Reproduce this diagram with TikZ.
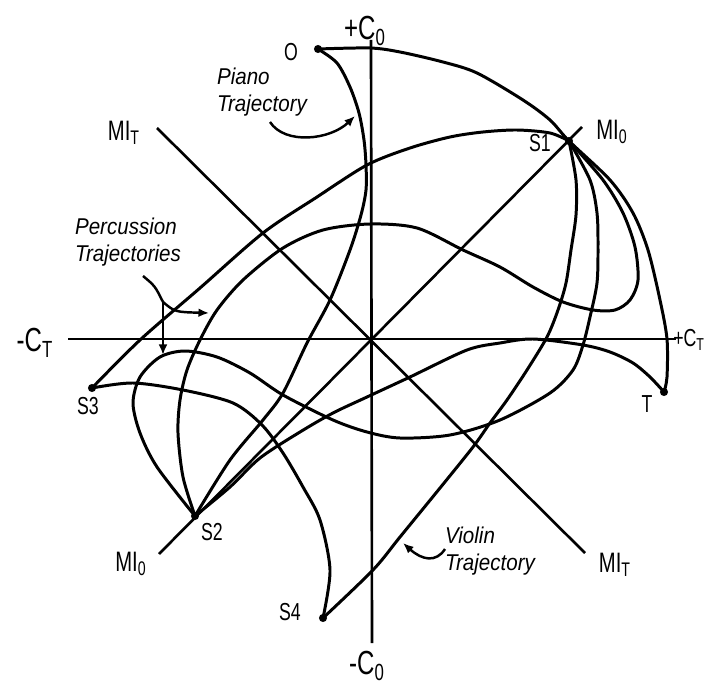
\documentclass[tikz,border=0pt]{standalone}
\usepackage{fontspec}
\newfontfamily\handfont[FakeStretch=0.72]{Liberation Sans}
\newfontfamily\notefont[FakeStretch=0.9]{Liberation Sans}
\usetikzlibrary{arrows.meta, calc, positioning}

\begin{document}
\begin{tikzpicture}[x=0.02cm, y=-0.02cm]

\tikzset{
  axis line/.style={line width=1.5pt},
  trajectory/.style={line width=1.7pt, line join=round},
  pointer/.style={line width=1.4pt, -{Latex[length=6pt, width=5pt]}},
  point label/.style={font=\handfont\fontsize{14}{14}\selectfont, inner sep=0pt},
  mi label/.style={font=\handfont\fontsize{16}{16}\selectfont, inner sep=0pt},
  axis label/.style={font=\handfont\fontsize{19}{19}\selectfont, inner sep=0pt},
  note/.style={font=\notefont\itshape\fontsize{13}{15}\selectfont, align=left, inner sep=0pt},
}

\useasboundingbox (0,0) rectangle (707,686);
\clip (0,0) rectangle (707,686);

% axes and the two MI diagonals
\coordinate (c)    at (370,339);
\coordinate (top)  at (371,40);
\coordinate (bot)  at (372,643);
\coordinate (lft)  at (68,339);
\coordinate (rgt)  at (676,339);
\coordinate (mit1) at (157,128);
\coordinate (mit2) at (585,553);
\coordinate (mio1) at (159,554);
\coordinate (mio2) at (582,127);

\draw[axis line] (top) -- (bot);
\draw[axis line] (lft) -- (rgt);
\draw[axis line] (mit1) -- (mit2);
\draw[axis line] (mio1) -- (mio2);

\node[axis label] (cotop) at (365,31)  {+C\textsubscript{0}};
\node[axis label] (cobot) at (367,666) {-C\textsubscript{0}};
\node[axis label] (ctlft) at (35,343)  {-C\textsubscript{T}};
\node[axis label, font=\handfont\fontsize{14}{14}\selectfont, anchor=west]
  (ctrgt) at (673,340) {+C\textsubscript{T}};

\node[mi label] (mitA) at (124,133) {MI\textsubscript{T}};
\node[mi label] (mitB) at (615,565) {MI\textsubscript{T}};
\node[mi label] (mioA) at (612,132) {MI\textsubscript{0}};
\node[mi label] (mioB) at (131,564) {MI\textsubscript{0}};

% states
\coordinate (O)  at (318,49);
\coordinate (S1) at (569,141);
\coordinate (S2) at (195,516);
\coordinate (S3) at (92,388);
\coordinate (S4) at (323,618);
\coordinate (T)  at (664,392);

\foreach \pt in {O,S1,S2,S3,S4,T}
  \fill (\pt) circle (2.3pt);

\node[point label] (lO)  at (291,52)  {O};
\node[point label] (lS1) at (540,143) {S1};
\node[point label] (lS2) at (212,532) {S2};
\node[point label] (lS3) at (88,406)  {S3};
\node[point label] (lS4) at (290,612) {S4};
\node[point label] (lT)  at (647,404) {T};

% trajectories
\draw[trajectory] plot[smooth, tension=0.5] coordinates {
  (O) (370,48) (400,52) (443,62) (477,73) (523,100) (550,120) (S1)
  (610,180) (633,213) (648,250) (660,300) (667,339) (667,377) (T)};

\draw[trajectory] plot[smooth, tension=0.5] coordinates {
  (O) (337,63) (350,87) (359,113) (364,140) (366,165) (366,190) (361,215)
  (350,250) (330,300) (307,343) (283,393) (263,420) (230,460) (S2)};

\draw[trajectory] plot[smooth, tension=0.5] coordinates {
  (S3) (140,340) (200,288) (263,233) (317,197) (367,165) (410,148)
  (450,137) (483,132) (517,130) (550,133) (S1)};

\draw[trajectory] plot[smooth, tension=0.5] coordinates {
  (S1) (603,180) (623,213) (635,247) (638,280) (630,300) (615,310) (593,310)
  (563,302) (533,287) (500,267) (463,250) (417,228) (370,224) (323,230)
  (283,248) (243,280) (217,310) (200,340) (187,370) (180,400) (178,433)
  (183,477) (S2)};

\draw[trajectory] plot[smooth, tension=0.5] coordinates {
  (S1) (590,180) (597,213) (598,247) (597,283) (590,317) (583,345) (573,370)
  (550,393) (500,420) (450,435) (400,438) (367,432) (333,420) (283,395)
  (250,373) (217,357) (185,351) (160,357) (140,377) (133,403) (140,433)
  (157,467) (S2)};

\draw[trajectory] plot[smooth, tension=0.5] coordinates {
  (S1) (576,180) (576,215) (571,250) (566,283) (558,310) (547,337) (527,370)
  (507,400) (490,423) (473,447) (440,488) (400,537) (373,570) (S4)};

\draw[trajectory] plot[smooth, tension=0.5] coordinates {
  (T) (650,377) (633,363) (610,352) (583,345) (533,339) (500,343) (467,350)
  (410,377) (367,397) (333,413) (300,432) (260,458) (230,487) (S2)};

\draw[trajectory] plot[smooth, tension=0.5] coordinates {
  (S3) (133,383) (183,390) (233,403) (262,425) (283,453) (303,487) (320,520)
  (330,570) (S4)};

% notes
\node[note] (piano) at (262,92) {Piano\\Trajectory};
\node[note] (perc) at (128,242) {Percussion\\Trajectories};
\node[note] (violin) at (490,551) {Violin\\Trajectory};

\coordinate (piano tail) at (270,122);
\coordinate (piano tip)  at (355,116);
\draw[pointer] (piano tail) .. controls (285,145) and (330,140) .. (piano tip);

\coordinate (perc tail) at (143,276);
\coordinate (perc fork) at (163,302);
\coordinate (perc tip1) at (209,313);
\coordinate (perc tip2) at (163,355);
\draw[line width=1.4pt] (perc tail) .. controls (155,286) .. (perc fork);
\draw[pointer] (perc fork) .. controls (175,312) .. (perc tip1);
\draw[pointer] (perc fork) -- (perc tip2);

\coordinate (violin tail) at (445,549);
\coordinate (violin tip)  at (403,543);
\draw[pointer] (violin tail) .. controls (436,563) and (422,560) .. (violin tip);

\end{tikzpicture}
\end{document}
